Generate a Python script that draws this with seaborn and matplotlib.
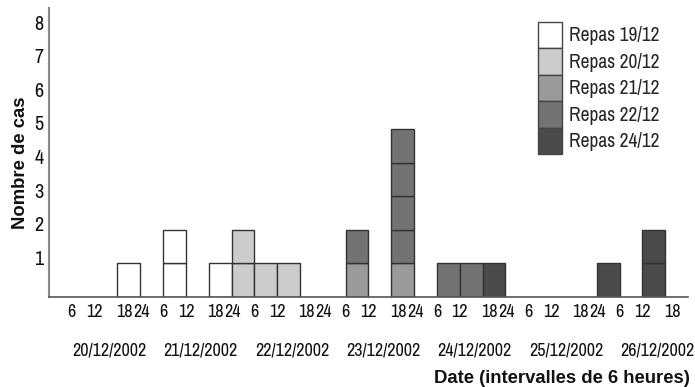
import numpy as np
import pandas as pd
import matplotlib.pyplot as plt
import seaborn as sns
from matplotlib import font_manager as fm
from matplotlib.patches import Patch
from matplotlib.transforms import ScaledTranslation

sns.set_theme(style="white")
plt.rcParams['font.family'] = ['Liberation Sans', 'DejaVu Sans']

# Données : intervalle de 6 h de début des signes (0 = 20/12 0-6 h), un élément par cas
repas = ['Repas 19/12', 'Repas 20/12', 'Repas 21/12', 'Repas 22/12', 'Repas 24/12']
couleurs = ['#ffffff', '#cccccc', '#9a9a9a', '#737373', '#4b4b4b']
cas_19 = [3, 5, 5, 7]
cas_20 = [8, 8, 9, 10]
cas_21 = [13, 15]
cas_22 = [13, 15, 15, 15, 15, 17, 18]
cas_24 = [19, 24, 26, 26]
heures = ['6', '12', '18', '24']
jours = ['20/12/2002', '21/12/2002', '22/12/2002', '23/12/2002',
         '24/12/2002', '25/12/2002', '26/12/2002']


# police étroite si disponible (le modèle utilise une Helvetica condensée)
def police_etroite():
    meilleur = None
    for f in fm.fontManager.ttflist:
        nom = (f.name + ' ' + f.fname).lower()
        if 'mono' in nom or 'cjk' in nom or f.style != 'normal' or f.weight not in (400, 'normal', 'regular'):
            continue
        if 'narrow' in nom:
            r = 0
        elif 'extracondensed' in nom or f.stretch == 'extra-condensed':
            r = 1
        elif 'semicondensed' in nom or f.stretch == 'semi-condensed':
            r = 3
        elif 'condensed' in nom or f.stretch == 'condensed':
            r = 2
        else:
            continue
        if meilleur is None or r < meilleur[0]:
            meilleur = (r, f.fname)
    return meilleur


trouve = police_etroite()
if trouve is not None:
    fp_txt = fm.FontProperties(fname=trouve[1])
    t_h, t_y, t_leg = 13, 14.5, 14
else:
    fp_txt = fm.FontProperties(family='Liberation Sans')
    t_h, t_y, t_leg = 11, 13, 12.5

lignes = []
for nom, liste in zip(repas, [cas_19, cas_20, cas_21, cas_22, cas_24]):
    for iv in liste:
        lignes.append({'repas': nom, 'x': iv + 0.5})
df = pd.DataFrame(lignes)
df['cas'] = ['c%02d' % i for i in range(len(df))]
pal = {c: couleurs[repas.index(r)] for c, r in zip(df['cas'], df['repas'])}

fig = plt.figure(figsize=(6.95, 3.87), dpi=100, facecolor='white')
ax = fig.add_axes([49 / 695, 1 - 297 / 387, 639 / 695, 289 / 387])

# un carré par cas : empilement par cas (le dernier niveau de hue est en bas)
sns.histplot(data=df, x='x', hue='cas', hue_order=list(df['cas'])[::-1],
             multiple='stack', binwidth=1, binrange=(0, 28), palette=pal,
             edgecolor='#333333', linewidth=1, alpha=1, legend=False, ax=ax)
for p in list(ax.patches):
    if p.get_height() == 0:
        p.remove()

ax.set_xlim(0, 28)
ax.set_ylim(0, 8.6)

# axe y
ax.set_yticks(range(1, 9))
ax.tick_params(axis='y', length=0, pad=4, labelcolor='#111111')
for lab in ax.get_yticklabels():
    lab.set_fontproperties(fp_txt)
    lab.set_fontsize(t_y)
    lab.set_transform(lab.get_transform() + ScaledTranslation(0, 0.06, fig.dpi_scale_trans))

# axe x : heures puis dates
decal = [1.0, 2.0, 3.3, 4.05]
pos_h, lab_h = [], []
for j in range(len(jours)):
    for d, h in zip(decal, heures):
        if j == len(jours) - 1 and h == '24':
            continue
        pos_h.append(4 * j + d)
        lab_h.append(h)
ax.set_xticks(pos_h)
ax.set_xticklabels(lab_h)
ax.set_xticks([2.65 + 4 * j for j in range(len(jours))], minor=True)
ax.set_xticklabels(jours, minor=True)
ax.tick_params(axis='x', which='major', length=0, pad=5, labelcolor='#111111')
ax.tick_params(axis='x', which='minor', length=0, pad=32.5, labelcolor='#111111')
for lab in ax.get_xticklabels() + ax.get_xticklabels(minor=True):
    lab.set_fontproperties(fp_txt)
    lab.set_fontsize(t_h)

ax.set_xlabel('Date (intervalles de 6 heures)', fontsize=13.3, fontweight='bold',
              family='Liberation Sans', color='#111111', ha='right')
ax.xaxis.set_label_coords(1.003, -0.252)
ax.set_ylabel('Nombre de cas', fontsize=13.3, fontweight='bold',
              family='Liberation Sans', color='#111111')
ax.yaxis.set_label_coords(-0.031, 0.464)

sns.despine(ax=ax)
ax.spines['left'].set_color('#888888')
ax.spines['left'].set_linewidth(1.5)
ax.spines['bottom'].set_color('#555555')
ax.spines['bottom'].set_linewidth(1.2)

poignees = [Patch(facecolor=c, edgecolor='#444444', linewidth=1) for c in couleurs]
fp_leg = fp_txt.copy()
fp_leg.set_size(t_leg)
ax.legend(handles=poignees, labels=repas, loc='upper left',
          bbox_to_anchor=(538 / 695, 1 - 21.7 / 387), bbox_transform=fig.transFigure,
          frameon=False, prop=fp_leg, handleheight=33.5 / (t_leg * 100 / 72),
          handlelength=24 / (t_leg * 100 / 72), labelspacing=0,
          handletextpad=7 / (t_leg * 100 / 72), borderpad=0, borderaxespad=0)

fig.savefig('out.png', dpi=100, facecolor='white')
